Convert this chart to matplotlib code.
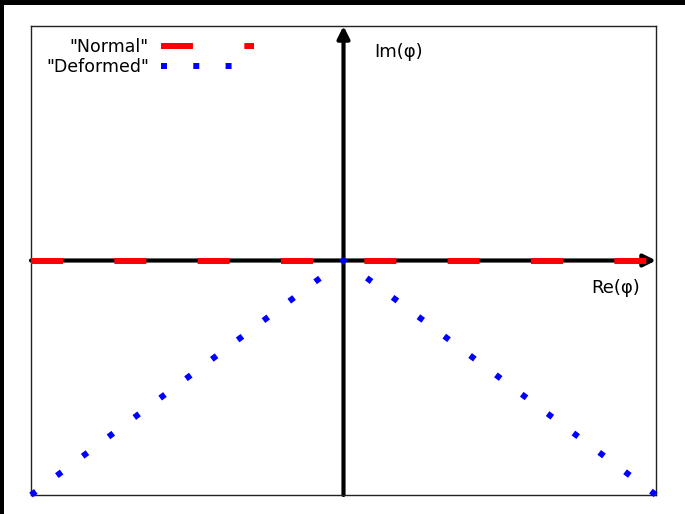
import matplotlib
matplotlib.use("Agg")
import matplotlib.pyplot as plt
from matplotlib.patches import Rectangle

# --- data ---
normal_x = [-1.0, 1.0]
normal_y = [0.0, 0.0]
deformed_x = [-1.0, 0.0, 1.0]
deformed_y = [-1.0, 0.0, -1.0]
labels = ['"Normal"', '"Deformed"']

plt.rcParams["lines.scale_dashes"] = False

fig = plt.figure(figsize=(6.85, 5.14), dpi=100, facecolor="black")
# white canvas with thin black strip at top and left
fig.patches.append(Rectangle((4 / 685, 0), 1, (514 - 5) / 514,
                             transform=fig.transFigure, facecolor="white",
                             edgecolor="none", zorder=-10))

ax = fig.add_axes([31 / 685, 1 - 495 / 514, (656 - 31) / 685, (495 - 26) / 514])
ax.set_zorder(2)
ax.set_xlim(-1, 1)
ax.set_ylim(-1, 1)
ax.set_xticks([])
ax.set_yticks([])
for sp in ax.spines.values():
    sp.set_linewidth(1.0)
    sp.set_color("#222222")

# axis arrows
ax.annotate("", xy=(1, 0), xytext=(-1, 0),
            arrowprops=dict(arrowstyle="-|>", lw=3, color="black",
                            mutation_scale=18, shrinkA=0, shrinkB=0),
            zorder=1)
ax.annotate("", xy=(0, 1), xytext=(0, -1),
            arrowprops=dict(arrowstyle="-|>", lw=3, color="black",
                            mutation_scale=18, shrinkA=0, shrinkB=0),
            zorder=1)

ax.plot(normal_x, normal_y, color="red", lw=4.3, solid_capstyle="butt",
        dash_capstyle="butt", dashes=(23, 37), label=labels[0], zorder=3,
        clip_on=False)
ax.plot(deformed_x, deformed_y, color="blue", lw=4.3, dash_capstyle="butt",
        dashes=(4.3, 18.95), label=labels[1], zorder=3, clip_on=False)

ax.text(0.10, 0.89, "Im(φ)", fontsize=13, ha="left", va="center")
ax.text(0.95, -0.118, "Re(φ)", fontsize=13, ha="right", va="center")

ax.legend(loc="upper left", frameon=False, markerfirst=False, fontsize=12.5,
          handlelength=5.36, borderaxespad=0.2, labelspacing=0.15,
          handletextpad=0.69, bbox_to_anchor=(0.0075, 0.997))

fig.savefig("out.png", dpi=100, facecolor=fig.get_facecolor())
